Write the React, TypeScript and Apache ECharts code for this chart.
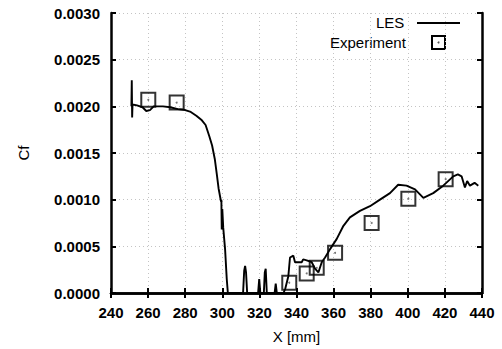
import React, { useEffect, useRef } from "react";
import * as echarts from "echarts";

const lesX = [251, 251.2, 251.4, 251.6, 254, 257, 259, 261, 263, 268, 272, 276, 280, 283, 286, 289, 291, 293, 294.5, 296, 297, 298, 299.3, 299.5, 299.7, 300, 300.5, 301.5, 302.4, 303, 311.2, 311.8, 312.3, 312.8, 313.4, 319.3, 319.9, 320.5, 322.4, 322.9, 323.4, 324, 328.2, 328.8, 329.4, 333, 334, 335.6, 336.5, 338.3, 339.2, 342.8, 343.6, 345.5, 348.2, 350, 351.8, 353.6, 355.4, 358.1, 361.7, 365.3, 368.8, 374.2, 379.6, 385, 390.4, 394.8, 399.3, 403.9, 408.4, 413.7, 419.1, 424.5, 427, 429, 430.8, 432, 433.5, 436, 438];
const lesCf = [0.00200, 0.00228, 0.00188, 0.00202, 0.00201, 0.00199, 0.00195, 0.00196, 0.00200, 0.00200, 0.00199, 0.00197, 0.00196, 0.00194, 0.00190, 0.00185, 0.00180, 0.00168, 0.00158, 0.00143, 0.00128, 0.00112, 0.00098, 0.00100, 0.00068, 0.00090, 0.00070, 0.00047, 0.00015, 0.0, 0.0, 0.00024, 0.00029, 0.00022, 0.0, 0.0, 0.00015, 0.0, 0.0, 0.00022, 0.00026, 0.0, 0.0, 0.0001, 0.0, 0.0, 0.00005, 0.00018, 0.00038, 0.0004, 0.00033, 0.00033, 0.00036, 0.00035, 0.00033, 0.00026, 0.00022, 0.00033, 0.00038, 0.00047, 0.00058, 0.00072, 0.00081, 0.00088, 0.00093, 0.00100, 0.00107, 0.00116, 0.00115, 0.00111, 0.00102, 0.00107, 0.00115, 0.00125, 0.00127, 0.00125, 0.00113, 0.00120, 0.00115, 0.00118, 0.00115];

const expX = [260.1, 275.4, 336.1, 345.5, 350.9, 360.8, 380.5, 400.3, 420.4];
const expCf = [0.00207, 0.00204, 0.00011, 0.00021, 0.00027, 0.00043, 0.00075, 0.00101, 0.00122];

const xTicks = [240, 260, 280, 300, 320, 340, 360, 380, 400, 420, 440];
const yTicks = [0, 0.0005, 0.001, 0.0015, 0.002, 0.0025, 0.003];

export default function App() {
  const ref = useRef<HTMLDivElement>(null);
  useEffect(() => {
    document.body.style.margin = "0";
    const chart = echarts.init(ref.current!, null, { renderer: "svg" });
    const font = "'Liberation Sans', Arial, sans-serif";
    const labelStyle = { color: "#000", fontSize: 15, fontWeight: "bold" as const, fontFamily: font };
    const axisLine = { show: true, lineStyle: { color: "#000", width: 2.5 } };
    const tick = { show: true, inside: true, length: 5, lineStyle: { color: "#000", width: 2 } };
    const split = { show: true, lineStyle: { color: "#c4c4c4", type: [1, 3] as any, width: 1 } };
    const xBase = { type: "value" as const, min: xTicks[0], max: xTicks[xTicks.length - 1], interval: 20 };
    const yBase = { type: "value" as const, min: yTicks[0], max: yTicks[yTicks.length - 1], interval: 0.0005 };
    chart.setOption({
      animation: false,
      backgroundColor: "#fff",
      grid: { left: 111, right: 20, top: 13, bottom: 55, containLabel: false },
      xAxis: [
        {
          ...xBase,
          position: "bottom",
          name: "X [mm]",
          nameLocation: "middle",
          nameGap: 36,
          nameTextStyle: { ...labelStyle, fontWeight: 500, fontSize: 15 },
          axisLine,
          axisTick: tick,
          axisLabel: { ...labelStyle, margin: 12 },
          splitLine: split,
        },
        {
          ...xBase,
          position: "top",
          axisLine,
          axisTick: tick,
          axisLabel: { show: false },
          splitLine: { show: false },
        },
      ],
      yAxis: [
        {
          ...yBase,
          position: "left",
          name: "Cf",
          nameLocation: "middle",
          nameGap: 80,
          nameTextStyle: { ...labelStyle, fontWeight: 500, fontSize: 15 },
          axisLine,
          axisTick: tick,
          axisLabel: { ...labelStyle, margin: 11, formatter: (v: number) => v.toFixed(4) },
          splitLine: split,
        },
        {
          ...yBase,
          position: "right",
          axisLine,
          axisTick: tick,
          axisLabel: { show: false },
          splitLine: { show: false },
        },
      ],
      series: [
        {
          name: "LES",
          type: "line",
          data: lesX.map((x, i) => [x, lesCf[i]]),
          showSymbol: false,
          symbol: "none",
          lineStyle: { color: "#000", width: 1.9 },
          z: 3,
        },
        {
          name: "Experiment",
          type: "scatter",
          data: expX.map((x, i) => [x, expCf[i]]),
          symbol: "rect",
          symbolSize: 14,
          itemStyle: { color: "rgba(255,255,255,0)", borderColor: "#000", borderWidth: 2 },
          z: 4,
        },
        {
          name: "ExperimentDot",
          type: "scatter",
          data: expX.map((x, i) => [x, expCf[i]]),
          symbol: "circle",
          symbolSize: 2,
          itemStyle: { color: "#555" },
          z: 5,
        },
      ],
      graphic: [
        { type: "text", left: 376, top: 15, style: { text: "LES", fill: "#000", font: `500 15px ${font}` } },
        { type: "line", shape: { x1: 417, y1: 23, x2: 460, y2: 23 }, style: { stroke: "#000", lineWidth: 1.9 } },
        { type: "text", left: 330, top: 35, style: { text: "Experiment", fill: "#000", font: `500 15px ${font}` } },
        { type: "rect", shape: { x: 432, y: 36, width: 13, height: 13 }, style: { fill: "none", stroke: "#000", lineWidth: 2 } },
        { type: "circle", shape: { cx: 438.5, cy: 42.5, r: 1 }, style: { fill: "#555" } },
      ],
    });
    return () => chart.dispose();
  }, []);
  return <div ref={ref} style={{ width: 502, height: 349 }} />;
}
